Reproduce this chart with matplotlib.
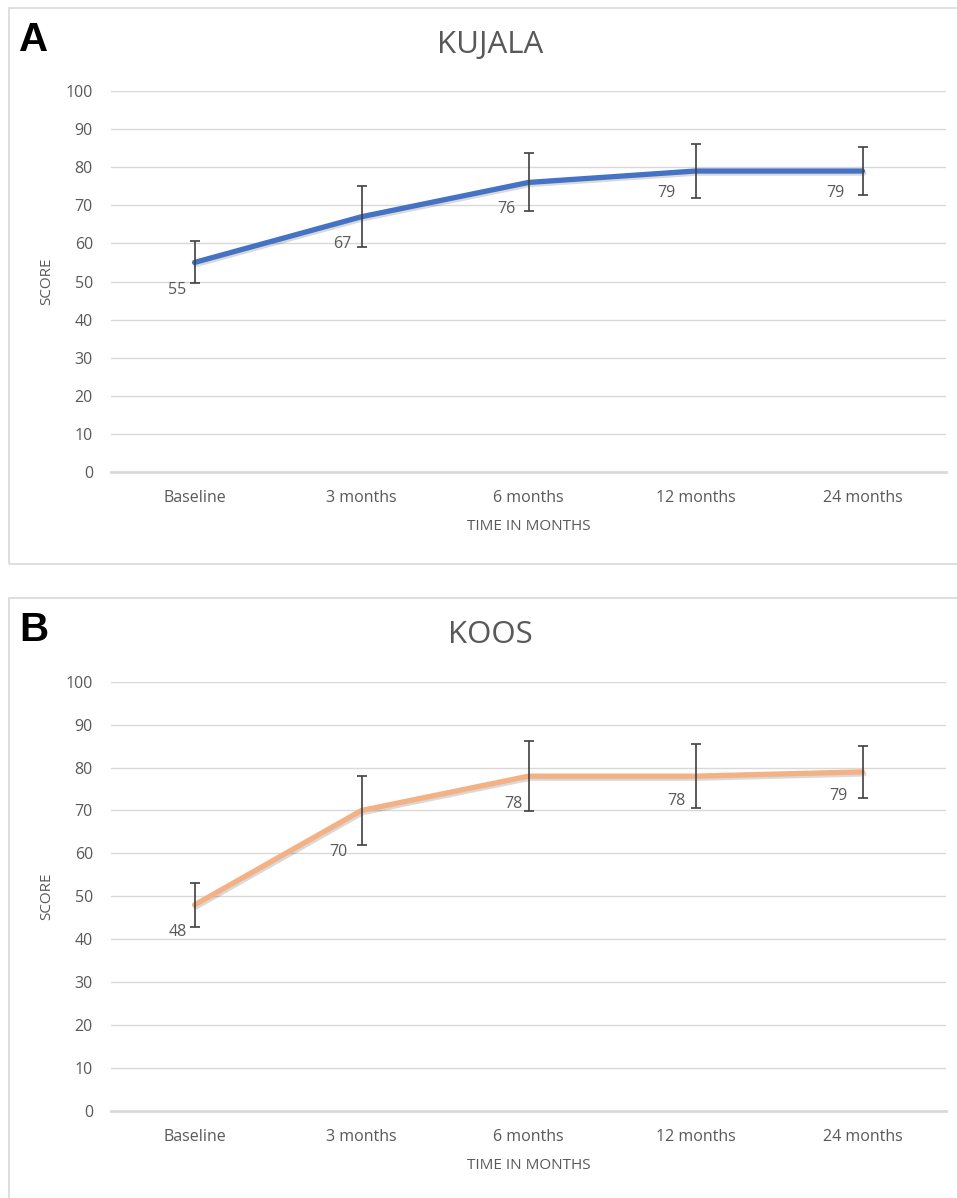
import matplotlib
matplotlib.use("Agg")
import matplotlib.pyplot as plt
import matplotlib.patheffects as pe
from matplotlib.patches import Rectangle

# data
times = ["Baseline", "3 months", "6 months", "12 months", "24 months"]
kujala_mean = [55, 67, 76, 79, 79]
kujala_err = [5.5, 8, 7.6, 7, 6.2]
koos_mean = [48, 70, 78, 78, 79]
koos_err = [5.1, 8, 8.2, 7.4, 6]

# label offsets (pixels from the point)
kujala_lab_off = [(-17, -28), (-19, -27), (-22, -27), (-29, -22), (-27, -22)]
koos_lab_off = [(-17, -27), (-23, -42), (-15, -28), (-19, -25), (-24, -24)]

plt.rcParams['font.family'] = ['Open Sans', 'DejaVu Sans']
TXT = "#595959"
GRID = "#d9d9d9"

W, H = 957, 1198
fig = plt.figure(figsize=(W / 100, H / 100), dpi=100)


def fx(px):
    return px / W


def fy(py):
    return 1 - py / H


def panel(letter, title, mean, err, color, lab_off, top_px, bot_px, frame_top, frame_bot, title_y):
    # panel frame
    fig.patches.append(Rectangle((fx(9), fy(frame_bot)), fx(960) - fx(9), fy(frame_top) - fy(frame_bot),
                                 transform=fig.transFigure, fill=False, edgecolor=GRID, lw=1.2))
    fig.text(fx(19), fy(frame_top + 13), letter, fontsize=29, fontweight='bold',
             family='Liberation Sans', color='black', va='top', ha='left')
    fig.text(fx(490), fy(title_y), title, fontsize=22.5, color=TXT, ha='center', va='center')

    ax = fig.add_axes([fx(111), fy(bot_px), fx(946) - fx(111), fy(top_px) - fy(bot_px)])
    x = list(range(len(times)))
    ax.plot(x, mean, color=color, lw=3.8, solid_capstyle='round', solid_joinstyle='round', zorder=3,
            path_effects=[pe.SimpleLineShadow(offset=(1, -1.5), shadow_color='k', alpha=0.15), pe.Normal()])
    ax.errorbar(x, mean, yerr=err, fmt='none', ecolor='#404040', elinewidth=1.2, capsize=3.5,
                capthick=1.2, zorder=4)
    for xi, m, (dx, dy) in zip(x, mean, lab_off):
        ax.annotate(str(m), (xi, m), xytext=(dx, dy), textcoords='offset pixels',
                    ha='center', va='center', fontsize=11.5, color=TXT, zorder=5)

    ax.set_xlim(-0.5, len(times) - 0.5)
    ax.set_ylim(0, 100)
    ax.set_yticks(range(0, 101, 10))
    ax.set_xticks(x)
    ax.set_xticklabels(times)
    ax.tick_params(length=0, labelsize=11.5, labelcolor=TXT)
    ax.tick_params(axis='y', pad=13)
    ax.tick_params(axis='x', pad=13)
    ax.grid(axis='y', color=GRID, lw=1)
    ax.set_axisbelow(True)
    for s in ['top', 'right', 'left']:
        ax.spines[s].set_visible(False)
    ax.spines['bottom'].set_color(GRID)
    ax.spines['bottom'].set_linewidth(2)
    ax.set_xlabel("TIME IN MONTHS", fontsize=11, color=TXT, labelpad=9)
    ax.set_ylabel("SCORE", fontsize=11, color=TXT, labelpad=8)
    return ax


panel("A", "KUJALA", kujala_mean, kujala_err, "#4472C4", kujala_lab_off, 91, 472, 8, 564, 45)
panel("B", "KOOS", koos_mean, koos_err, "#F4B183", koos_lab_off, 681.7, 1111, 598, 1210, 635)

fig.savefig("out.png", dpi=100)
